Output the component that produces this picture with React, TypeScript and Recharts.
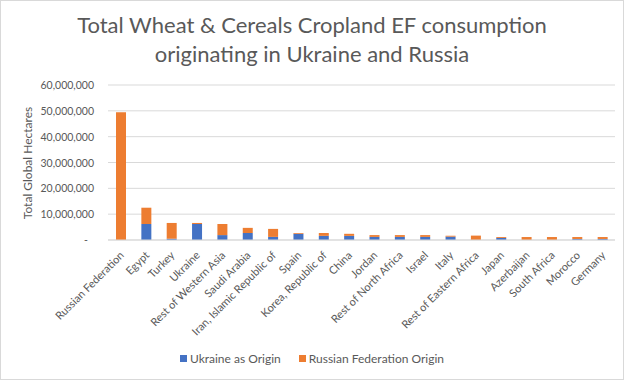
import { Bar, BarChart, CartesianGrid, XAxis, YAxis } from "recharts";

const categories = [
  "Russian Federation",
  "Egypt",
  "Turkey",
  "Ukraine",
  "Rest of Western Asia",
  "Saudi Arabia",
  "Iran, Islamic Republic of",
  "Spain",
  "Korea, Republic of",
  "China",
  "Jordan",
  "Rest of North Africa",
  "Israel",
  "Italy",
  "Rest of Eastern Africa",
  "Japan",
  "Azerbaijan",
  "South Africa",
  "Morocco",
  "Germany",
];

// global hectares
const ukraineOrigin = [
  0, 6200000, 500000, 6200000, 1900000, 2700000, 1200000, 2400000, 1600000, 1600000,
  1200000, 1200000, 1200000, 1300000, 0, 800000, 0, 0, 400000, 400000,
];
const russiaOrigin = [
  49500000, 6300000, 6100000, 400000, 4300000, 2000000, 3100000, 300000, 1100000, 800000,
  700000, 700000, 700000, 350000, 1700000, 350000, 1150000, 1150000, 750000, 750000,
];

const yTicks = [0, 10000000, 20000000, 30000000, 40000000, 50000000, 60000000];

const series = [
  { key: "ukraine", name: "Ukraine as Origin", color: "#4472c4" },
  { key: "russia", name: "Russian Federation Origin", color: "#ed7d31" },
];

const data = categories.map((name, i) => ({
  name,
  ukraine: ukraineOrigin[i],
  russia: russiaOrigin[i],
}));

const FONT = "Lato, 'Open Sans', sans-serif";
const TEXT = "#595959";

function YTick({ x, y, payload }: any) {
  const zero = payload.value === 0;
  return (
    <text
      x={zero ? x - 6 : x}
      y={y}
      dy={4}
      textAnchor="end"
      fill={TEXT}
      fontSize={10.5}
      fontFamily={FONT}
    >
      {zero ? "-" : payload.value.toLocaleString("en-US")}
    </text>
  );
}

function XTick({ x, y, payload }: any) {
  return (
    <text
      x={x + 4}
      y={y + 8}
      textAnchor="end"
      fill={TEXT}
      fontSize={11}
      fontFamily={FONT}
      transform={`rotate(-45, ${x + 4}, ${y + 8})`}
    >
      {payload.value}
    </text>
  );
}

export default function App() {
  return (
    <div
      style={{
        position: "fixed",
        left: 0,
        top: 0,
        width: 624,
        height: 380,
        boxSizing: "border-box",
        border: "1px solid #d9d9d9",
        background: "#fff",
        fontFamily: FONT,
      }}
    >
      <div
        style={{
          position: "absolute",
          left: 0,
          top: 9,
          width: 622,
          textAlign: "center",
          color: TEXT,
          fontSize: 22,
          lineHeight: "29px",
        }}
      >
        Total Wheat &amp; Cereals Cropland EF consumption
        <br />
        originating in Ukraine and Russia
      </div>
      <div
        style={{
          position: "absolute",
          left: 26,
          top: 162,
          transform: "translate(-50%, -50%) rotate(-90deg)",
          whiteSpace: "nowrap",
          color: TEXT,
          fontSize: 12,
        }}
      >
        Total Global Hectares
      </div>
      <div style={{ position: "absolute", left: -1, top: -1 }}>
        <BarChart
          width={624}
          height={380}
          data={data}
          margin={{ top: 85, right: 9, left: 0, bottom: 10 }}
          barCategoryGap={0}
        >
          <CartesianGrid stroke="#d9d9d9" vertical={false} />
          <XAxis
            dataKey="name"
            interval={0}
            tickLine={false}
            axisLine={{ stroke: "#d9d9d9" }}
            tick={<XTick />}
            height={130}
          />
          <YAxis
            width={108}
            domain={[0, 60000000]}
            ticks={yTicks}
            tickLine={false}
            axisLine={false}
            tick={<YTick />}
            tickMargin={8}
          />
          {series.map((s) => (
            <Bar
              key={s.key}
              dataKey={s.key}
              name={s.name}
              stackId="a"
              fill={s.color}
              barSize={10}
              isAnimationActive={false}
            />
          ))}
        </BarChart>
      </div>
      <div
        style={{
          position: "absolute",
          left: 0,
          top: 350,
          width: 622,
          display: "flex",
          justifyContent: "center",
          gap: 18,
          color: TEXT,
          fontSize: 12,
        }}
      >
        {series.map((s) => (
          <div key={s.key} style={{ display: "flex", alignItems: "center", gap: 3 }}>
            <span style={{ width: 7, height: 7, background: s.color, display: "inline-block" }} />
            <span>{s.name}</span>
          </div>
        ))}
      </div>
    </div>
  );
}
